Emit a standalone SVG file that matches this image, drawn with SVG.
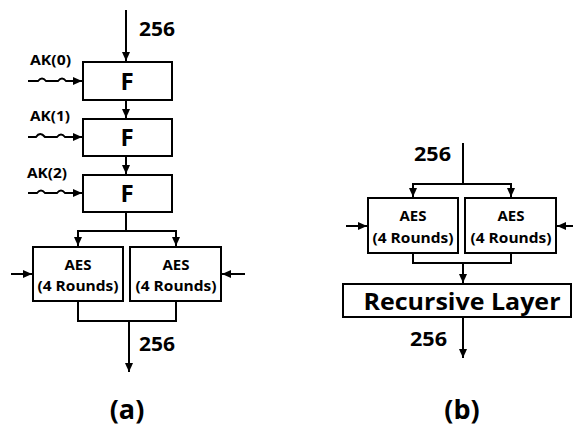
<svg xmlns="http://www.w3.org/2000/svg" width="573" height="428" viewBox="0 0 573 428">
<style>
.box{fill:#fff;stroke:#000;stroke-width:2}
.ln{fill:none;stroke:#000;stroke-width:2}
.t{font-family:"Open Sans",Lato,"Liberation Sans",sans-serif;font-weight:bold;fill:#000}
</style>
<defs>
<marker id="ah" markerWidth="10" markerHeight="10" refX="9" refY="5" orient="auto" markerUnits="userSpaceOnUse">
<path d="M0,1 L9,5 L0,9 Z" fill="#000"/>
</marker>
</defs>
<rect width="573" height="428" fill="#fff"/>
<g id="connectors">
<path class="ln" d="M126,10 V61" marker-end="url(#ah)"/>
<path class="ln" d="M126,100 V118" marker-end="url(#ah)"/>
<path class="ln" d="M126,156 V174" marker-end="url(#ah)"/>
<path class="ln" d="M126,212 V231 M78,231 H176"/>
<path class="ln" d="M78,230 V246" marker-end="url(#ah)"/>
<path class="ln" d="M176,230 V246" marker-end="url(#ah)"/>
<path class="ln" d="M11,274 H32" marker-end="url(#ah)"/>
<path class="ln" d="M245,274 H222" marker-end="url(#ah)"/>
<path class="ln" d="M78,301 V321 H176 V301"/>
<path class="ln" d="M129,321 V372" marker-end="url(#ah)"/>
<path class="ln" d="M28,81 H38 Q42,76 46,81 H58 Q62,76 66,81 H82" marker-end="url(#ah)"/>
<path class="ln" d="M28,137 H36 Q40,131 45,137 H57 Q61,132 65,137 H82" marker-end="url(#ah)"/>
<path class="ln" d="M28,193 H37 Q41,188 45,193 H57 Q61,188 65,193 H82" marker-end="url(#ah)"/>
<path class="ln" d="M463,143 V184 M413,184 H511"/>
<path class="ln" d="M413,183 V197" marker-end="url(#ah)"/>
<path class="ln" d="M511,183 V197" marker-end="url(#ah)"/>
<path class="ln" d="M346,226 H367" marker-end="url(#ah)"/>
<path class="ln" d="M573,226 H557" marker-end="url(#ah)"/>
<path class="ln" d="M413,253 V263 H511 V253"/>
<path class="ln" d="M463,263 V283" marker-end="url(#ah)"/>
<path class="ln" d="M463,317 V358" marker-end="url(#ah)"/>
</g>
<g id="f0">
<rect class="box" x="83" y="62" width="89" height="38"/>
<text class="t" x="127" y="90" font-size="24" text-anchor="middle">F</text>
</g>
<g id="f1">
<rect class="box" x="83" y="119" width="89" height="37"/>
<text class="t" x="127" y="146" font-size="24" text-anchor="middle">F</text>
</g>
<g id="f2">
<rect class="box" x="83" y="175" width="89" height="37"/>
<text class="t" x="127" y="202" font-size="24" text-anchor="middle">F</text>
</g>
<g id="aes-a-left">
<rect class="box" x="33" y="247" width="90" height="54"/>
<text class="t" x="78" y="270" font-size="15" text-anchor="middle">AES</text>
<text class="t" x="78" y="291" font-size="15" text-anchor="middle" textLength="81" lengthAdjust="spacingAndGlyphs">(4 Rounds)</text>
</g>
<g id="aes-a-right">
<rect class="box" x="130" y="247" width="91" height="54"/>
<text class="t" x="176" y="270" font-size="15" text-anchor="middle">AES</text>
<text class="t" x="176" y="291" font-size="15" text-anchor="middle" textLength="81" lengthAdjust="spacingAndGlyphs">(4 Rounds)</text>
</g>
<g id="labels-a">
<text class="t" x="139" y="36" font-size="19" textLength="36" lengthAdjust="spacingAndGlyphs">256</text>
<text class="t" x="30" y="65" font-size="14" textLength="41" lengthAdjust="spacingAndGlyphs">AK(0)</text>
<text class="t" x="30" y="121" font-size="14" textLength="40" lengthAdjust="spacingAndGlyphs">AK(1)</text>
<text class="t" x="27" y="178" font-size="14" textLength="40" lengthAdjust="spacingAndGlyphs">AK(2)</text>
<text class="t" x="139" y="351" font-size="19" textLength="36" lengthAdjust="spacingAndGlyphs">256</text>
<text class="t" x="127" y="419" font-size="27" text-anchor="middle">(a)</text>
</g>
<g id="aes-b-left">
<rect class="box" x="368" y="198" width="90" height="55"/>
<text class="t" x="413" y="221" font-size="15" text-anchor="middle">AES</text>
<text class="t" x="413" y="243" font-size="15" text-anchor="middle" textLength="81" lengthAdjust="spacingAndGlyphs">(4 Rounds)</text>
</g>
<g id="aes-b-right">
<rect class="box" x="465" y="198" width="91" height="55"/>
<text class="t" x="511" y="221" font-size="15" text-anchor="middle">AES</text>
<text class="t" x="511" y="243" font-size="15" text-anchor="middle" textLength="81" lengthAdjust="spacingAndGlyphs">(4 Rounds)</text>
</g>
<g id="recursive">
<rect class="box" x="343" y="284" width="228" height="33"/>
<text class="t" x="462" y="310" font-size="23" text-anchor="middle" textLength="197" lengthAdjust="spacingAndGlyphs">Recursive Layer</text>
</g>
<g id="labels-b">
<text class="t" x="414" y="161" font-size="19" textLength="37" lengthAdjust="spacingAndGlyphs">256</text>
<text class="t" x="410" y="346" font-size="19" textLength="37" lengthAdjust="spacingAndGlyphs">256</text>
<text class="t" x="462" y="419" font-size="27" text-anchor="middle">(b)</text>
</g>
</svg>
